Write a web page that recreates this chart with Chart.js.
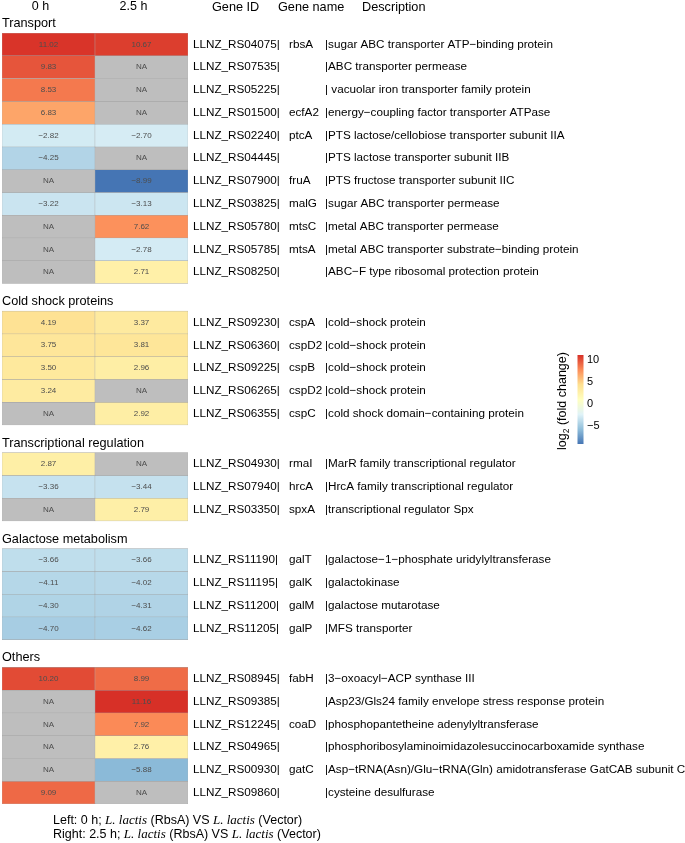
<!DOCTYPE html>
<html>
<head>
<meta charset="utf-8">
<title>Heatmap log2 fold change</title>
<script src="https://cdn.jsdelivr.net/npm/chart.js@4.4.1/dist/chart.umd.min.js"></script>
<style>
  html, body { margin: 0; padding: 0; background: #fff; }
  #wrap { width: 685px; height: 843px; }
</style>
</head>
<body>
<div id="wrap"><canvas id="heatmap" width="685" height="843"></canvas></div>
<script>
// Datos
const columns = ['0 h', '2.5 h'];
const sectionNames = ['Transport', 'Cold shock proteins', 'Transcriptional regulation', 'Galactose metabolism', 'Others'];
const sectionSizes = [11, 5, 3, 4, 6];

const geneIds = [
    'LLNZ_RS04075|', 'LLNZ_RS07535|', 'LLNZ_RS05225|', 'LLNZ_RS01500|', 'LLNZ_RS02240|', 'LLNZ_RS04445|',
    'LLNZ_RS07900|', 'LLNZ_RS03825|', 'LLNZ_RS05780|', 'LLNZ_RS05785|', 'LLNZ_RS08250|',
    'LLNZ_RS09230|', 'LLNZ_RS06360|', 'LLNZ_RS09225|', 'LLNZ_RS06265|', 'LLNZ_RS06355|',
    'LLNZ_RS04930|', 'LLNZ_RS07940|', 'LLNZ_RS03350|',
    'LLNZ_RS11190|', 'LLNZ_RS11195|', 'LLNZ_RS11200|', 'LLNZ_RS11205|',
    'LLNZ_RS08945|', 'LLNZ_RS09385|', 'LLNZ_RS12245|', 'LLNZ_RS04965|', 'LLNZ_RS00930|', 'LLNZ_RS09860|'
];
const geneNames = [
    'rbsA', '', '', 'ecfA2', 'ptcA', '', 'fruA', 'malG', 'mtsC', 'mtsA', '',
    'cspA', 'cspD2', 'cspB', 'cspD2', 'cspC',
    'rmaI', 'hrcA', 'spxA',
    'galT', 'galK', 'galM', 'galP',
    'fabH', '', 'coaD', '', 'gatC', ''
];
const descriptions = [
    '|sugar ABC transporter ATP\u2212binding protein',
    '|ABC transporter permease',
    '| vacuolar iron transporter family protein',
    '|energy\u2212coupling factor transporter ATPase',
    '|PTS lactose/cellobiose transporter subunit IIA',
    '|PTS lactose transporter subunit IIB',
    '|PTS fructose transporter subunit IIC',
    '|sugar ABC transporter permease',
    '|metal ABC transporter permease',
    '|metal ABC transporter substrate\u2212binding protein',
    '|ABC\u2212F type ribosomal protection protein',
    '|cold\u2212shock protein',
    '|cold\u2212shock protein',
    '|cold\u2212shock protein',
    '|cold\u2212shock protein',
    '|cold shock domain\u2212containing protein',
    '|MarR family transcriptional regulator',
    '|HrcA family transcriptional regulator',
    '|transcriptional regulator Spx',
    '|galactose\u22121\u2212phosphate uridylyltransferase',
    '|galactokinase',
    '|galactose mutarotase',
    '|MFS transporter',
    '|3\u2212oxoacyl\u2212ACP synthase III',
    '|Asp23/Gls24 family envelope stress response protein',
    '|phosphopantetheine adenylyltransferase',
    '|phosphoribosylaminoimidazolesuccinocarboxamide synthase',
    '|Asp\u2212tRNA(Asn)/Glu\u2212tRNA(Gln) amidotransferase GatCAB subunit C',
    '|cysteine desulfurase'
];
// null = NA
const values0h = [
    11.02, 9.83, 8.53, 6.83, -2.82, -4.25, null, -3.22, null, null, null,
    4.19, 3.75, 3.50, 3.24, null,
    2.87, -3.36, null,
    -3.66, -4.11, -4.30, -4.70,
    10.20, null, null, null, null, 9.09
];
const values25h = [
    10.67, null, null, null, -2.70, null, -8.99, -3.13, 7.62, -2.78, 2.71,
    3.37, 3.81, 2.96, null, 2.92,
    null, -3.44, 2.79,
    -3.66, -4.02, -4.31, -4.62,
    8.99, 11.16, 7.92, 2.76, -5.88, null
];
const legendTicks = [10, 5, 0, -5];

// Estilo
const FONT = '"Liberation Sans", Arial, Helvetica, sans-serif';
const SERIF = '"Liberation Serif", "Times New Roman", serif';
const PALETTE = ['#4575B4', '#91BFDB', '#E0F3F8', '#FFFFBF', '#FEE090', '#FC8D59', '#D73027'];
const NA_COLOR = '#BEBEBE';
const GAP = 1.215; // separación entre bloques (en filas)

const allValues = values0h.concat(values25h).filter(v => v !== null);
const vMin = Math.min(...allValues);
const vMax = Math.max(...allValues);

function hexToRgb(h) {
    return [parseInt(h.slice(1, 3), 16), parseInt(h.slice(3, 5), 16), parseInt(h.slice(5, 7), 16)];
}

function colorFor(v) {
    if (v === null) return NA_COLOR;
    const t = (v - vMin) / (vMax - vMin) * (PALETTE.length - 1);
    const i = Math.min(Math.floor(t), PALETTE.length - 2);
    const f = t - i;
    const a = hexToRgb(PALETTE[i]);
    const b = hexToRgb(PALETTE[i + 1]);
    const c = a.map((x, k) => Math.round(x + (b[k] - x) * f));
    return `rgb(${c[0]}, ${c[1]}, ${c[2]})`;
}

function fmt(v) {
    if (v === null) return 'NA';
    return v.toFixed(2).replace('-', '\u2212');
}

// Posición vertical de cada fila (unidades de fila)
const rowStart = [];
const sectionStart = [];
let g = 0;
sectionSizes.forEach((n, s) => {
    sectionStart.push(g + s * GAP);
    for (let k = 0; k < n; k++) {
        rowStart.push(g + s * GAP);
        g++;
    }
});
const yMax = g + (sectionSizes.length - 1) * GAP;

const datasets = geneIds.map((id, r) => ({
    label: id,
    data: [[rowStart[r], rowStart[r] + 1], [rowStart[r], rowStart[r] + 1]],
    cellValues: [values0h[r], values25h[r]],
    backgroundColor: [colorFor(values0h[r]), colorFor(values25h[r])],
    borderColor: '#A3A3A3',
    borderWidth: 0.5,
    borderSkipped: false,
    grouped: false,
    barPercentage: 1,
    categoryPercentage: 1
}));

// Textos: valores, genes, secciones, leyenda y pie
const textPlugin = {
    id: 'heatmapText',
    afterDatasetsDraw(chart) {
        const ctx = chart.ctx;
        const area = chart.chartArea;
        const y = chart.scales.y;
        ctx.save();

        // valores en las celdas
        ctx.font = `8px ${FONT}`;
        ctx.fillStyle = '#4D4D4D';
        ctx.textAlign = 'center';
        ctx.textBaseline = 'middle';
        chart.data.datasets.forEach((ds, i) => {
            chart.getDatasetMeta(i).data.forEach((bar, j) => {
                ctx.fillText(fmt(ds.cellValues[j]), bar.x, (bar.y + bar.base) / 2);
            });
        });

        // columnas de genes
        ctx.fillStyle = '#000';
        ctx.textAlign = 'left';
        ctx.font = `11.7px ${FONT}`;
        geneIds.forEach((id, r) => {
            const cy = y.getPixelForValue(rowStart[r] + 0.5);
            ctx.fillText(id, area.right + 5, cy);
            ctx.fillText(geneNames[r], area.right + 101, cy);
            ctx.fillText(descriptions[r], area.right + 137, cy);
        });

        // encabezados
        ctx.font = `12.7px ${FONT}`;
        ctx.fillText('Gene ID', area.right + 24, 7);
        ctx.fillText('Gene name', area.right + 90, 7);
        ctx.fillText('Description', area.right + 174, 7);

        // secciones
        sectionNames.forEach((name, s) => {
            ctx.fillText(name, area.left, y.getPixelForValue(sectionStart[s]) - 9.5);
        });

        // leyenda de color
        const barX = 577.5, barW = 6, barTop = 355, barBottom = 444;
        const grad = ctx.createLinearGradient(0, barTop, 0, barBottom);
        PALETTE.forEach((c, k) => grad.addColorStop(k / (PALETTE.length - 1), PALETTE[PALETTE.length - 1 - k]));
        ctx.fillStyle = grad;
        ctx.fillRect(barX, barTop, barW, barBottom - barTop);
        ctx.fillStyle = '#000';
        ctx.font = `11px ${FONT}`;
        legendTicks.forEach(t => {
            const ty = barTop + (vMax - t) / (vMax - vMin) * (barBottom - barTop);
            ctx.fillText(String(t).replace('-', '\u2212'), barX + barW + 3.5, ty);
        });
        // título rotado
        ctx.save();
        ctx.translate(563, 401);
        ctx.rotate(-Math.PI / 2);
        const p1 = 'log', p3 = ' (fold change)';
        ctx.font = `12.5px ${FONT}`;
        const w1 = ctx.measureText(p1).width;
        const w3 = ctx.measureText(p3).width;
        ctx.font = `8.5px ${FONT}`;
        const w2 = ctx.measureText('2').width;
        const x0 = -(w1 + w2 + w3) / 2;
        ctx.font = `12.5px ${FONT}`;
        ctx.fillText(p1, x0, 0);
        ctx.font = `8.5px ${FONT}`;
        ctx.fillText('2', x0 + w1, 4);
        ctx.font = `12.5px ${FONT}`;
        ctx.fillText(p3, x0 + w1 + w2, 0);
        ctx.restore();

        // pie de figura
        const lines = [
            [['Left: 0 h; ', false], ['L. lactis', true], [' (RbsA) VS ', false], ['L. lactis', true], [' (Vector)', false]],
            [['Right: 2.5 h; ', false], ['L. lactis', true], [' (RbsA) VS ', false], ['L. lactis', true], [' (Vector)', false]]
        ];
        lines.forEach((parts, li) => {
            let x = 53;
            const ly = 821 + li * 14;
            parts.forEach(([txt, it]) => {
                ctx.font = it ? `italic 13px ${SERIF}` : `12.5px ${FONT}`;
                ctx.fillText(txt, x, ly);
                x += ctx.measureText(txt).width;
            });
        });

        ctx.restore();
    }
};

Chart.defaults.color = '#000';
Chart.defaults.font.family = FONT;

new Chart(document.getElementById('heatmap').getContext('2d'), {
    type: 'bar',
    data: { labels: columns, datasets: datasets },
    options: {
        responsive: false,
        animation: false,
        layout: { padding: { left: 2, right: 497, top: -19.5, bottom: 39 } },
        plugins: { legend: { display: false }, tooltip: { enabled: false } },
        scales: {
            x: {
                position: 'top',
                grid: { display: false, drawTicks: false },
                border: { display: false },
                ticks: { padding: 20, labelOffset: -8, font: { size: 12.5, lineHeight: 1 }, color: '#000' }
            },
            y: {
                type: 'linear',
                reverse: true,
                min: 0,
                max: yMax,
                display: false
            }
        }
    },
    plugins: [textPlugin]
});
</script>
</body>
</html>
